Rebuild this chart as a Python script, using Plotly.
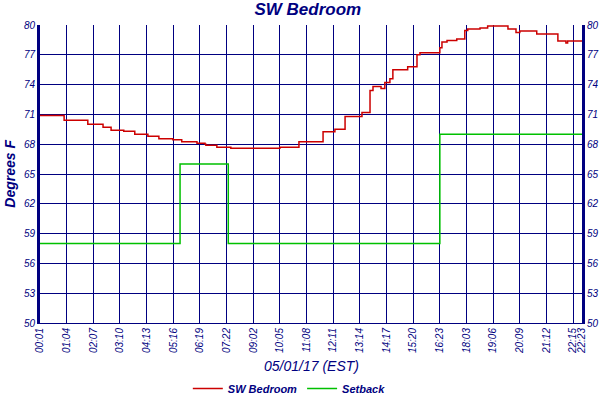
import plotly.graph_objects as go

# sample index (x) and temperature at each step change
TEMP_IDX = [0, 54, 57, 113, 149, 168, 198, 224, 255, 281, 314, 335, 371, 390, 392,
            418, 451, 567, 612, 669, 697, 721, 761, 780, 787, 806, 815, 827, 834,
            869, 891, 898, 945, 950, 962, 985, 1004, 1011, 1040, 1058, 1106, 1125,
            1134, 1174, 1224, 1243, 1247, 1281]
TEMP_VAL = [70.9, 70.9, 70.4, 70.0, 69.7, 69.4, 69.3, 69.0, 68.8, 68.55, 68.45, 68.25,
            68.1, 68.0, 67.9, 67.7, 67.6, 67.7, 68.25, 69.25, 69.5, 70.8, 71.2, 73.4,
            73.8, 73.6, 74.2, 74.6, 75.5, 75.8, 77.0, 77.2, 77.7, 78.3, 78.45, 78.6,
            79.45, 79.6, 79.7, 79.9, 79.6, 79.25, 79.4, 79.1, 78.4, 78.2, 78.4, 78.4]

SETBACK_IDX = [0, 331, 445, 945, 1281]
SETBACK_VAL = [58, 66, 58, 69, 69]

TIME_LABELS = ["00:01", "01:04", "02:07", "03:10", "04:13", "05:16", "06:19", "07:22",
               "09:02", "10:05", "11:08", "12:11", "13:14", "14:17", "15:20", "16:23",
               "18:03", "19:06", "20:09", "21:12", "22:15", "22:23"]
Y_TICKS = [50, 53, 56, 59, 62, 65, 68, 71, 74, 77, 80]

STEP = 63
N_LAST = TEMP_IDX[-1]
tick_pos = [i * STEP for i in range(len(TIME_LABELS) - 1)] + [N_LAST]

NAVY = "#000080"
FONT = "Liberation Sans"

fig = go.Figure()
fig.add_trace(go.Scatter(x=TEMP_IDX, y=TEMP_VAL, mode="lines", name="SW Bedroom",
                         line=dict(color="#cc0000", width=1.5, shape="hv")))
fig.add_trace(go.Scatter(x=SETBACK_IDX, y=SETBACK_VAL, mode="lines", name="Setback",
                         yaxis="y2",
                         line=dict(color="#00c000", width=1.5, shape="hv")))

yax = dict(range=[50, 80], tickvals=Y_TICKS, showgrid=True, gridcolor=NAVY, gridwidth=1,
           zeroline=False, showline=True, linecolor=NAVY, linewidth=3, ticks="",
           automargin=False,
           tickfont=dict(family=FONT, size=10, color=NAVY, style="italic"))

fig.update_layout(
    width=600, height=400,
    margin=dict(l=40, r=18, t=25, b=77, autoexpand=False),
    paper_bgcolor="white", plot_bgcolor="white",
    title=dict(text="SW Bedroom", x=0.513, xanchor="center", y=0.978, yanchor="middle",
               font=dict(family=FONT, size=17, color=NAVY, style="italic", weight="bold")),
    xaxis=dict(range=[0, N_LAST], tickvals=tick_pos, ticktext=TIME_LABELS,
               tickangle=-90, showgrid=True, gridcolor=NAVY, gridwidth=1,
               zeroline=False, showline=True, linecolor=NAVY, linewidth=1, ticks="",
               automargin=False,
               tickfont=dict(family=FONT, size=10, color=NAVY, style="italic")),
    yaxis=dict(**yax, side="left"),
    yaxis2=dict(**yax, side="right", overlaying="y", matches="y"),
    showlegend=True,
    legend=dict(orientation="h", x=0.46, xanchor="center", y=-0.22, yanchor="middle",
                font=dict(family=FONT, size=11, color=NAVY, style="italic", weight="bold"),
                itemwidth=30, bgcolor="rgba(0,0,0,0)"),
    annotations=[
        dict(text="05/01/17 (EST)", xref="paper", yref="paper", x=0.5, y=-0.145,
             xanchor="center", yanchor="middle", showarrow=False,
             font=dict(family=FONT, size=14, color=NAVY, style="italic")),
        dict(text="Degrees F", xref="paper", yref="paper", x=-0.056, y=0.5,
             xanchor="center", yanchor="middle", textangle=-90, showarrow=False,
             font=dict(family=FONT, size=14, color=NAVY, style="italic", weight="bold")),
    ],
)

# drop the page's default body margin so the 600x400 figure fills the window
fig.write_html("out.html", config={"displayModeBar": False},
               post_script="document.body.style.margin='0';")
